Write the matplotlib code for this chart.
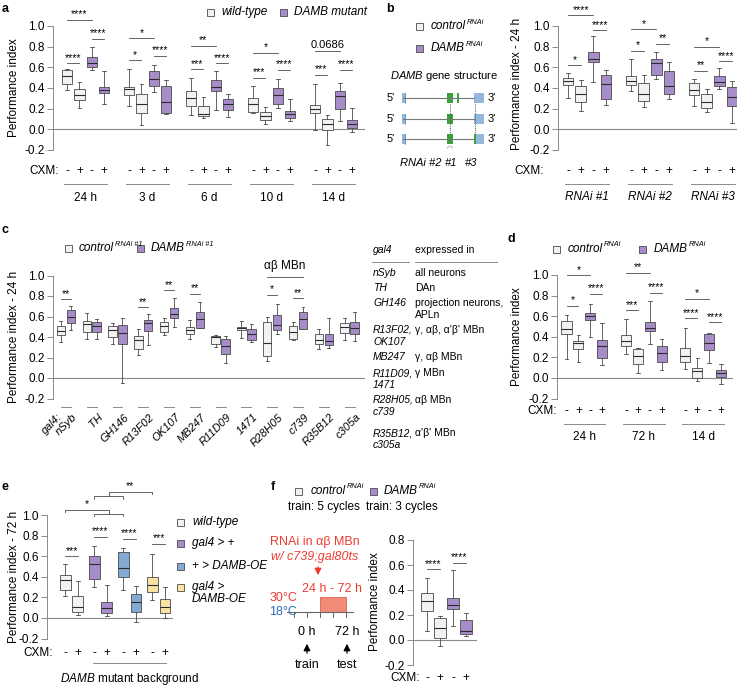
import numpy as np
import matplotlib.pyplot as plt
from matplotlib.patches import Rectangle
from matplotlib.transforms import blended_transform_factory

W, H = 750, 689
plt.rcParams['font.family'] = ['Liberation Sans', 'DejaVu Sans']
plt.rcParams['mathtext.fontset'] = 'custom'
plt.rcParams['mathtext.it'] = 'Liberation Sans:italic'
plt.rcParams['mathtext.rm'] = 'Liberation Sans'
plt.rcParams['font.size'] = 8

WHITE = '#f2f2f2'
PURPLE = '#a68cc9'
BLUE = '#82aad3'
YELLOW = '#f9e3a3'
EDGE = '#4a4a4a'
GREY = '#8a8a8a'
RED = '#ee3b30'
TBLUE = '#2f6db5'
FS = 8

# ---------------- data (whisker low, q1, median, q3, whisker high) ----------------
a_groups = ['24 h', '3 d', '6 d', '10 d', '14 d']
a_stats = [
    [0.38, 0.44, 0.52, 0.57, 0.58], [0.21, 0.28, 0.33, 0.39, 0.46],
    [0.57, 0.60, 0.64, 0.70, 0.80], [0.25, 0.35, 0.38, 0.41, 0.56],
    [0.23, 0.33, 0.39, 0.41, 0.58], [0.04, 0.16, 0.25, 0.34, 0.44],
    [0.36, 0.42, 0.49, 0.56, 0.62], [0.15, 0.16, 0.26, 0.42, 0.48],
    [0.14, 0.23, 0.30, 0.37, 0.50], [0.11, 0.13, 0.15, 0.23, 0.31],
    [0.19, 0.37, 0.41, 0.48, 0.56], [0.12, 0.19, 0.25, 0.29, 0.34],
    [0.16, 0.17, 0.25, 0.30, 0.42], [0.05, 0.09, 0.13, 0.17, 0.22],
    [0.21, 0.25, 0.33, 0.40, 0.49], [0.08, 0.11, 0.15, 0.18, 0.29],
    [-0.01, 0.16, 0.20, 0.24, 0.44], [-0.15, -0.01, 0.05, 0.10, 0.14],
    [0.08, 0.20, 0.32, 0.37, 0.45], [-0.03, 0.01, 0.05, 0.09, 0.21],
]
a_sig = [(0, 2, 1.06, '****'), (0, 1, 0.64, '****'), (2, 3, 0.875, '****'),
         (4, 6, 0.88, '*'), (4, 5, 0.67, '*'), (6, 7, 0.71, '****'),
         (8, 10, 0.81, '**'), (8, 9, 0.58, '***'), (10, 11, 0.64, '****'),
         (12, 14, 0.74, '*'), (12, 13, 0.50, '***'), (14, 15, 0.575, '****'),
         (16, 18, 0.76, '0.0686'), (16, 17, 0.53, '***'), (18, 19, 0.575, '****')]

b_groups = ['RNAi #1', 'RNAi #2', 'RNAi #3']
b_stats = [
    [0.30, 0.43, 0.47, 0.50, 0.55], [0.18, 0.26, 0.34, 0.42, 0.48],
    [0.46, 0.65, 0.68, 0.75, 0.90], [0.24, 0.29, 0.44, 0.53, 0.57],
    [0.37, 0.43, 0.47, 0.52, 0.68], [0.22, 0.27, 0.34, 0.45, 0.53],
    [0.49, 0.53, 0.64, 0.68, 0.75], [0.29, 0.34, 0.42, 0.56, 0.65],
    [0.23, 0.33, 0.38, 0.45, 0.49], [0.17, 0.21, 0.26, 0.34, 0.39],
    [0.39, 0.42, 0.46, 0.52, 0.59], [0.06, 0.23, 0.31, 0.41, 0.47],
]
b_sig = [(0, 2, 1.105, '****'), (0, 1, 0.62, '*'), (2, 3, 0.96, '****'),
         (4, 6, 0.97, '*'), (4, 5, 0.76, '*'), (6, 7, 0.83, '**'),
         (8, 10, 0.80, '*'), (8, 9, 0.565, '**'), (10, 11, 0.66, '****')]

c_lines = ['nSyb', 'TH', 'GH146', 'R13F02', 'OK107', 'MB247', 'R11D09',
           '1471', 'R28H05', 'c739', 'R35B12', 'c305a']
c_stats = [
    [0.35, 0.415, 0.46, 0.51, 0.56], [0.47, 0.54, 0.60, 0.66, 0.70],
    [0.38, 0.45, 0.53, 0.56, 0.63], [0.38, 0.45, 0.51, 0.55, 0.58],
    [0.33, 0.40, 0.47, 0.51, 0.54], [-0.05, 0.33, 0.44, 0.52, 0.59],
    [0.22, 0.28, 0.37, 0.41, 0.48], [0.32, 0.46, 0.54, 0.57, 0.62],
    [0.42, 0.45, 0.51, 0.55, 0.585], [0.50, 0.585, 0.62, 0.68, 0.78],
    [0.38, 0.43, 0.465, 0.50, 0.57], [0.49, 0.49, 0.58, 0.64, 0.74],
    [0.30, 0.335, 0.40, 0.41, 0.42], [0.15, 0.23, 0.31, 0.38, 0.41],
    [0.39, 0.465, 0.49, 0.50, 0.56], [0.35, 0.37, 0.43, 0.48, 0.53],
    [0.165, 0.215, 0.345, 0.545, 0.595], [0.43, 0.465, 0.52, 0.61, 0.725],
    [0.37, 0.385, 0.45, 0.505, 0.55], [0.48, 0.48, 0.58, 0.64, 0.69],
    [0.28, 0.33, 0.37, 0.43, 0.48], [0.29, 0.32, 0.36, 0.425, 0.59],
    [0.37, 0.44, 0.50, 0.54, 0.585], [0.36, 0.43, 0.49, 0.545, 0.64],
]
c_sig = [(0, 1, 0.77, '**'), (6, 7, 0.69, '**'), (8, 9, 0.855, '**'),
         (10, 11, 0.82, '**'), (16, 17, 0.81, '*'), (18, 19, 0.78, '**')]
c_table = [('nSyb', '', 'all neurons', ''), ('TH', '', 'DAn', ''),
           ('GH146', '', 'projection neurons,', 'APLn'),
           ('R13F02,', 'OK107', "\u03b3, \u03b1\u03b2, \u03b1'\u03b2' MBn", ''),
           ('MB247', '', '\u03b3, \u03b1\u03b2 MBn', ''),
           ('R11D09,', '1471', '\u03b3 MBn', ''),
           ('R28H05,', 'c739', '\u03b1\u03b2 MBn', ''),
           ('R35B12,', 'c305a', "\u03b1'\u03b2' MBn", '')]
c_table_y = [273, 288, 303, 330, 357, 373, 400, 433]

d_groups = ['24 h', '72 h', '14 d']
d_stats = [
    [0.18, 0.425, 0.48, 0.55, 0.61], [0.16, 0.28, 0.34, 0.36, 0.42],
    [0.40, 0.56, 0.60, 0.63, 0.72], [0.13, 0.19, 0.31, 0.37, 0.53],
    [0.23, 0.31, 0.36, 0.42, 0.57], [0.05, 0.14, 0.21, 0.28, 0.29],
    [0.33, 0.46, 0.49, 0.54, 0.75], [0.08, 0.16, 0.24, 0.31, 0.38],
    [0.09, 0.16, 0.21, 0.29, 0.49], [-0.03, 0.00, 0.07, 0.10, 0.19],
    [0.15, 0.27, 0.34, 0.43, 0.44], [-0.06, 0.01, 0.05, 0.08, 0.14],
]
d_sig = [(0, 2, 1.00, '*'), (0, 1, 0.70, '*'), (2, 3, 0.82, '****'),
         (4, 6, 1.02, '**'), (4, 5, 0.66, '***'), (6, 7, 0.83, '****'),
         (8, 10, 0.77, '*'), (8, 9, 0.58, '****'), (10, 11, 0.54, '****')]

e_names = ['wild-type', 'gal4 > +', '+ > DAMB-OE', 'gal4 >\nDAMB-OE']
e_stats = [
    [0.21, 0.275, 0.37, 0.42, 0.525], [0.03, 0.055, 0.11, 0.21, 0.355],
    [0.30, 0.38, 0.52, 0.60, 0.70], [0.02, 0.05, 0.10, 0.16, 0.32],
    [0.27, 0.40, 0.49, 0.64, 0.68], [-0.04, 0.055, 0.16, 0.23, 0.31],
    [0.17, 0.25, 0.32, 0.40, 0.62], [0.00, 0.05, 0.105, 0.185, 0.30],
]
e_sig = [(0, 1, 0.60, '***'), (2, 3, 0.79, '****'), (4, 5, 0.77, '****'),
         (6, 7, 0.72, '***')]

f_stats = [
    [0.07, 0.23, 0.31, 0.38, 0.50], [-0.05, 0.02, 0.10, 0.18, 0.195],
    [0.11, 0.245, 0.28, 0.34, 0.56], [0.035, 0.045, 0.07, 0.16, 0.22],
]
f_sig = [(0, 1, 0.565, '****'), (2, 3, 0.62, '****')]

# ---------------- figure ----------------
fig = plt.figure(figsize=(7.5, 6.89), dpi=100)
ov = fig.add_axes([0, 0, 1, 1], zorder=5)
ov.set_xlim(0, W)
ov.set_ylim(H, 0)
ov.axis('off')
renderer = fig.canvas.get_renderer()


def T(x, y, s, **kw):
    kw.setdefault('va', 'center')
    kw.setdefault('ha', 'left')
    kw.setdefault('fontsize', FS)
    return ov.text(x, y, s, **kw)


def sup_label(x, y, base, sup, fs=8.5):
    t = T(x, y, base, style='italic', fontsize=fs)
    bb = t.get_window_extent(renderer)
    T(x + bb.width + 0.5, y - 4, sup, style='italic', fontsize=fs * 0.62)


def square(x, y, c):
    ov.add_patch(Rectangle((x, y - 3.5), 7, 7, fc=c, ec=EDGE, lw=0.6))


def panel(x0, x1, xlim, ref_lo, ref_hi, ylim, ticks):
    s = (ref_lo[0] - ref_hi[0]) / (ref_hi[1] - ref_lo[1])
    bot = ref_lo[0] + (ref_lo[1] - ylim[0]) * s
    top = ref_hi[0] - (ylim[1] - ref_hi[1]) * s
    ax = fig.add_axes([x0 / W, 1 - bot / H, (x1 - x0) / W, (bot - top) / H])
    ax.set_xlim(xlim)
    ax.set_ylim(ylim)
    for sp in ['top', 'right', 'bottom']:
        ax.spines[sp].set_visible(False)
    ax.spines['left'].set_bounds(ticks[0], ticks[-1])
    ax.spines['left'].set_color(GREY)
    ax.spines['left'].set_linewidth(0.7)
    ax.set_yticks(ticks)
    ax.set_yticklabels([f'{t:.1f}' for t in ticks])
    ax.tick_params(axis='y', length=4, width=0.7, color=GREY, pad=2, labelsize=8.5)
    ax.set_xticks([])
    ax.axhline(0, color=GREY, lw=0.8, zorder=0)
    ax.patch.set_visible(False)
    return ax


def draw_boxes(ax, pos, stats, colors, width=0.85):
    st = [dict(whislo=s[0], q1=s[1], med=s[2], q3=s[3], whishi=s[4], fliers=[])
          for s in stats]
    art = ax.bxp(st, positions=pos, widths=width, patch_artist=True,
                 showfliers=False, manage_ticks=False, capwidths=width * 0.35,
                 boxprops=dict(edgecolor=EDGE, linewidth=0.6),
                 whiskerprops=dict(color=EDGE, linewidth=0.6),
                 capprops=dict(color=EDGE, linewidth=0.6),
                 medianprops=dict(color='#2b2b2b', linewidth=0.8))
    for p, c in zip(art['boxes'], colors):
        p.set_facecolor(c)


def draw_sig(ax, pos, sig):
    for i, j, y, lab in sig:
        ax.plot([pos[i], pos[j]], [y, y], color=EDGE, lw=0.6, clip_on=False)
        ax.text((pos[i] + pos[j]) / 2, y + 0.004, lab, ha='center', va='bottom',
                fontsize=7.5 if '*' in lab else 8, clip_on=False)


def draw_cxm(ax, pos, ypx, label_x):
    tr = blended_transform_factory(ax.transData, ov.transData)
    for k, p in enumerate(pos):
        ax.text(p, ypx, '-' if k % 2 == 0 else '+', transform=tr,
                ha='center', va='center', fontsize=8.5)
    T(label_x, ypx, 'CXM:', ha='right', fontsize=8.5)


def draw_groups(ax, pos, names, n, yline, ylab, style='normal'):
    tr = blended_transform_factory(ax.transData, ov.transData)
    for g, name in enumerate(names):
        ps = pos[g * n:(g + 1) * n]
        ax.plot([ps[0] - 0.25, ps[-1] + 0.25], [yline, yline], transform=tr,
                color=GREY, lw=0.7, clip_on=False)
        ax.text(np.mean(ps), ylab, name, transform=tr, ha='center', va='center',
                fontsize=8.5, style=style)


# ---------------- panel a ----------------
a_pos = [g * 5 + i for g in range(5) for i in range(4)]
a_col = [WHITE, WHITE, PURPLE, PURPLE] * 5
ax_a = panel(53, 365, (-1.13, 24.03), (150, -0.2), (26, 1.0), (-0.2, 1.0),
             [-0.2, 0.0, 0.2, 0.4, 0.6, 0.8, 1.0])
draw_boxes(ax_a, a_pos, a_stats, a_col)
draw_sig(ax_a, a_pos, a_sig)
draw_cxm(ax_a, a_pos, 171, 59)
draw_groups(ax_a, a_pos, a_groups, 4, 184, 198)
T(14, 88, 'Performance index', rotation=90, ha='center', fontsize=8.5)
T(2, 9, 'a', fontweight='bold', fontsize=9)
square(207, 12, WHITE)
T(221, 12, 'wild-type', style='italic', fontsize=8.5)
square(280, 12, PURPLE)
T(294, 12, 'DAMB mutant', style='italic', fontsize=8.5)

# ---------------- panel b ----------------
b_pos = [g * 5 + i for g in range(3) for i in range(4)]
b_col = [WHITE, WHITE, PURPLE, PURPLE] * 3
ax_b = panel(558, 737, (-0.8, 13.4), (150, -0.2), (26, 1.0), (-0.2, 1.0),
             [-0.2, 0.0, 0.2, 0.4, 0.6, 0.8, 1.0])
draw_boxes(ax_b, b_pos, b_stats, b_col)
draw_sig(ax_b, b_pos, b_sig)
draw_cxm(ax_b, b_pos, 171, 544)
draw_groups(ax_b, b_pos, b_groups, 4, 184, 197, style='italic')
T(517, 84, 'Performance index - 24 h', rotation=90, ha='center', fontsize=8.5)
T(386, 9, 'b', fontweight='bold', fontsize=9)
square(416, 26, WHITE)
sup_label(431, 26, 'control', 'RNAi')
square(416, 48, PURPLE)
sup_label(431, 48, 'DAMB', 'RNAi')

# gene structure sketch
T(444, 76, r'$DAMB$ gene structure', ha='center', fontsize=8)
GREEN = '#3aa23a'
EXB = '#94b8dc'
for k, yy in enumerate([98, 119, 139]):
    T(395, yy, "5'", ha='right')
    T(488, yy, "3'")
    ov.plot([403, 474], [yy, yy], color='#777777', lw=0.8)
    ov.add_patch(Rectangle((402, yy - 5), 4, 10, fc=EXB, ec='none'))
    ov.plot([404.5, 404.5], [yy - 5, yy + 5], color='#5b86b8', lw=0.5)
    ov.add_patch(Rectangle((447, yy - 5), 6, 10, fc=GREEN, ec='none'))
    ov.add_patch(Rectangle((474, yy - 5), 10, 10, fc=EXB, ec='none'))
    if k == 0:
        ov.add_patch(Rectangle((457, yy - 5), 1.8, 10, fc=GREEN, ec='none'))
    if k == 2:
        ov.add_patch(Rectangle((474, yy - 5), 2.2, 10, fc=GREEN, ec='none'))
for xx in [450, 475]:
    ov.plot([xx, xx], [104, 134], color='#555555', lw=0.7, ls=(0, (1, 1.2)))
ov.plot([447, 450, 453], [148, 146, 148], color='#555555', lw=0.6, ls=(0, (1, 1)))
T(421, 163, 'RNAi #2', ha='center', style='italic')
T(451, 163, '#1', ha='center', style='italic')
T(471, 163, '#3', ha='center', style='italic')

# ---------------- panel c ----------------
c_pos = [g * 2.6 + i for g in range(12) for i in range(2)]
c_col = [WHITE, PURPLE] * 12
ax_c = panel(53, 365, (-0.8, 30.65), (398.5, -0.2), (275.5, 1.0), (-0.2, 1.0),
             [-0.2, 0.0, 0.2, 0.4, 0.6, 0.8, 1.0])
draw_boxes(ax_c, c_pos, c_stats, c_col)
draw_sig(ax_c, c_pos, c_sig)
ax_c.plot([c_pos[16], c_pos[19]], [0.985, 0.985], color=EDGE, lw=0.6, clip_on=False)
ax_c.text((c_pos[16] + c_pos[19]) / 2, 1.03, '\u03b1\u03b2 MBn', ha='center',
          va='bottom', fontsize=8.5, clip_on=False)
tr_c = blended_transform_factory(ax_c.transData, ov.transData)
for g, name in enumerate(c_lines):
    m = g * 2.6 + 0.5
    ax_c.plot([m - 0.5, m + 0.5], [407, 407], transform=tr_c, color=GREY, lw=0.7,
              clip_on=False)
    ax_c.text(m + 0.6, 412, name, transform=tr_c, rotation=45, ha='right', va='top',
              rotation_mode='anchor', style='italic', fontsize=8)
ax_c.text(-0.4, 412, 'gal4:', transform=tr_c, rotation=45, ha='right', va='top',
          rotation_mode='anchor', style='italic', fontsize=8)
T(14, 337, 'Performance index - 24 h', rotation=90, ha='center', fontsize=8.5)
T(2, 230, 'c', fontweight='bold', fontsize=9)
square(65, 248, WHITE)
sup_label(79, 248, 'control', 'RNAi #1')
square(137, 248, PURPLE)
sup_label(151, 248, 'DAMB', 'RNAi #1')

# table of drivers
T(373, 250, 'gal4', style='italic', fontsize=7.5)
T(415, 250, 'expressed in', fontsize=7.5)
ov.plot([372, 409], [262, 262], color=GREY, lw=0.7)
ov.plot([415, 497], [262, 262], color=GREY, lw=0.7)
for (n1, n2, e1, e2), yy in zip(c_table, c_table_y):
    T(373, yy, n1, style='italic', fontsize=7.5)
    T(373, yy + 12, n2, style='italic', fontsize=7.5)
    T(415, yy, e1, fontsize=7.5)
    T(415, yy + 12, e2, fontsize=7.5)

# ---------------- panel d ----------------
d_pos = [g * 5 + i for g in range(3) for i in range(4)]
d_col = [WHITE, WHITE, PURPLE, PURPLE] * 3
ax_d = panel(557, 733, (-0.8, 14.0), (378, 0.0), (275, 1.0), (-0.2, 1.0),
             [-0.2, 0.0, 0.2, 0.4, 0.6, 0.8, 1.0])
draw_boxes(ax_d, d_pos, d_stats, d_col)
draw_sig(ax_d, d_pos, d_sig)
draw_cxm(ax_d, d_pos, 411, 557)
draw_groups(ax_d, d_pos, d_groups, 4, 424, 437)
T(517, 337, 'Performance index', rotation=90, ha='center', fontsize=8.5)
T(507, 239, 'd', fontweight='bold', fontsize=9)
square(553, 249, WHITE)
sup_label(568, 249, 'control', 'RNAi')
square(639, 249, PURPLE)
sup_label(654, 249, 'DAMB', 'RNAi')

# ---------------- panel e ----------------
e_pos = [g * 2.25 + i for g in range(4) for i in range(2)]
e_col = [WHITE, WHITE, PURPLE, PURPLE, BLUE, BLUE, YELLOW, YELLOW]
ax_e = panel(47, 173, (-1.4, 8.37), (618, 0.0), (515, 1.0), (-0.2, 1.0),
             [-0.2, 0.0, 0.2, 0.4, 0.6, 0.8, 1.0])
draw_boxes(ax_e, e_pos, e_stats, e_col)
draw_sig(ax_e, e_pos, e_sig)
# group comparison brackets
mid = (e_pos[2] + e_pos[4]) / 2
for sub_y, leg, main_y, other, lab in [(1.01, 0.99, 1.05, e_pos[0], '*'),
                                       (1.18, 1.16, 1.225, e_pos[6], '**')]:
    ax_e.plot([e_pos[2], e_pos[2], e_pos[4], e_pos[4]], [leg, sub_y, sub_y, leg],
              color=EDGE, lw=0.6, clip_on=False)
    ax_e.plot([mid, mid, other, other], [sub_y, main_y, main_y, main_y - 0.025],
              color=EDGE, lw=0.6, clip_on=False)
    ax_e.text((mid + other) / 2, main_y + 0.01, lab, ha='center', va='bottom',
              fontsize=7.5, clip_on=False)
draw_cxm(ax_e, e_pos, 653, 53)
tr_e = blended_transform_factory(ax_e.transData, ov.transData)
ax_e.plot([e_pos[2] - 0.1, e_pos[7] + 0.1], [663, 663], transform=tr_e, color=GREY,
          lw=0.7, clip_on=False)
ax_e.text((e_pos[2] + e_pos[7]) / 2, 679, r'$DAMB$ mutant background', transform=tr_e,
          ha='center', va='center', fontsize=8.5)
T(14, 577, 'Performance index - 72 h', rotation=90, ha='center', fontsize=8.5)
T(2, 487, 'e', fontweight='bold', fontsize=9)
for name, c, yy in zip(e_names, [WHITE, PURPLE, BLUE, YELLOW], [522, 543, 566, 587]):
    square(177, yy, c)
    for k, line in enumerate(name.split('\n')):
        T(192, yy + 12 * k, line, style='italic', fontsize=8.5)

# ---------------- panel f ----------------
f_pos = [0, 1, 2, 3]
f_col = [WHITE, WHITE, PURPLE, PURPLE]
ax_f = panel(413, 477, (-1.08, 3.85), (640, 0.0), (540, 0.8), (-0.2, 0.8),
             [-0.2, 0.0, 0.2, 0.4, 0.6, 0.8])
draw_boxes(ax_f, f_pos, f_stats, f_col, width=0.9)
draw_sig(ax_f, f_pos, f_sig)
draw_cxm(ax_f, f_pos, 678, 420)
T(375, 602, 'Performance index', rotation=90, ha='center', fontsize=8.5)
T(271, 487, 'f', fontweight='bold', fontsize=9)
square(295, 491, WHITE)
sup_label(311, 491, 'control', 'RNAi')
square(370, 491, PURPLE)
sup_label(384, 491, 'DAMB', 'RNAi')
T(324, 507, 'train: 5 cycles', ha='center', fontsize=8.5)
T(402, 507, 'train: 3 cycles', ha='center', fontsize=8.5)

# temperature-shift protocol sketch
T(315, 542, 'RNAi in \u03b1\u03b2 MBn', ha='center', color=RED, fontsize=9)
T(315, 557, 'w/ c739;gal80ts', ha='center', color=RED, style='italic', fontsize=9)
ov.annotate('', xy=(318, 578), xytext=(318, 564),
            arrowprops=dict(arrowstyle='-|>', color=RED, lw=0.9, mutation_scale=10))
T(332, 589, '24 h - 72 h', ha='center', color=RED, fontsize=9)
ov.add_patch(Rectangle((320, 597), 26, 15, fc='#f28a78', ec='#d9604f', lw=0.6))
ov.plot([287, 353], [612, 612], color='#666666', lw=0.8)
for xx in [294, 307, 320, 333, 346]:
    ov.plot([xx, xx], [612, 617], color='#666666', lw=0.7)
T(297, 598, '30\u00b0C', ha='right', color=RED, fontsize=9)
T(297, 612, '18\u00b0C', ha='right', color=TBLUE, fontsize=9)
T(307, 632, '0 h', ha='center', fontsize=9)
T(347, 632, '72 h', ha='center', fontsize=9)
for xx, lab in [(307, 'train'), (347, 'test')]:
    ov.annotate('', xy=(xx, 641), xytext=(xx, 656),
                arrowprops=dict(arrowstyle='-|>', color='black', lw=0.9,
                                mutation_scale=10))
    T(xx, 665, lab, ha='center', fontsize=9)

fig.savefig('out.png', dpi=100)
